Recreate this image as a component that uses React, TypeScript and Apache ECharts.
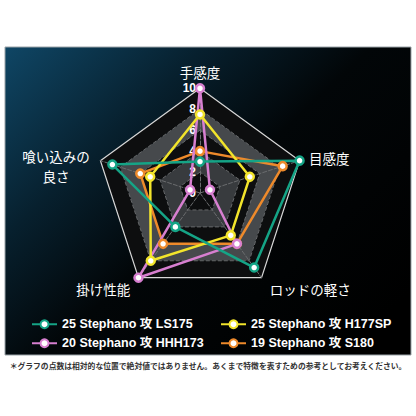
import React, { useEffect, useRef } from "react";
import * as echarts from "echarts";

// Indicators in ECharts order (counter-clockwise from top)
const axisNames = ["手感度", "喰い込みの良さ", "掛け性能", "ロッドの軽さ", "目感度"];
const axisMax = 10;
const axisGaps = [10, 10, 14, 14, 10];

const modelNames = [
  "25 Stephano 攻 LS175",
  "25 Stephano 攻 H177SP",
  "20 Stephano 攻 HHH173",
  "19 Stephano 攻 S180",
];
const modelColors = ["#15a486", "#f2e42b", "#d77fd0", "#ee8a2b"];

// values in axisNames order
const valuesLS175 = [3, 8.8, 4, 8.8, 10];
const valuesH177SP = [7.5, 5, 8, 5, 5];
const valuesHHH173 = [10, 1, 10, 6, 1];
const valuesS180 = [4, 6, 6, 6, 8.3];

const seriesValues = [valuesLS175, valuesH177SP, valuesHHH173, valuesS180];
const drawOrder = [3, 2, 1, 0];

const legendLeft = [0, 2];
const legendRight = [1, 3];

const footnote =
  "＊グラフの点数は相対的な位置で絶対値ではありません。あくまで特徴を表すための参考としてお考えください。";

const latin = "'Liberation Sans', Arial, 'Noto Sans CJK JP', sans-serif";
const cjk = "'Noto Sans CJK JP', sans-serif";

export default function App() {
  const ref = useRef<HTMLDivElement>(null);
  useEffect(() => {
    if (!ref.current) return;
    const chart = echarts.init(ref.current, undefined, { renderer: "svg" });

    const indicator = axisNames.map((n, i) => {
      const o: any = { name: n, max: axisMax, min: 0, nameGap: axisGaps[i] };
      if (i === 0) o.axisLabel = { show: true };
      return o;
    });

    const lineStyleFor = (c: string) => ({ color: c, width: 2.5 });
    const itemStyleFor = (c: string) => ({ color: "#ffffff", borderColor: c, borderWidth: 2.5 });

    const dummy = modelNames.map((n, i) => ({
      type: "line",
      name: n,
      data: [],
      symbol: "circle",
      lineStyle: lineStyleFor(modelColors[i]),
      itemStyle: itemStyleFor(modelColors[i]),
    }));

    const radarSeries = drawOrder.map((i) => ({
      type: "radar",
      name: modelNames[i],
      radarIndex: 0,
      symbol: "circle",
      symbolSize: 8,
      lineStyle: lineStyleFor(modelColors[i]),
      itemStyle: itemStyleFor(modelColors[i]),
      data: [{ name: modelNames[i], value: seriesValues[i] }],
    }));

    const legendCommon = {
      orient: "vertical",
      top: 313,
      itemWidth: 25,
      itemHeight: 10,
      itemGap: 6.5,
      selectedMode: false,
      textStyle: { color: "#ffffff", fontSize: 12.5, fontWeight: "bold", fontFamily: latin },
    };

    const nameRich = {
      width: 70,
      align: "center",
      fontSize: 13.5,
      color: "#ffffff",
      fontFamily: cjk,
    };

    chart.setOption({
      animation: false,
      title: {
        text: footnote,
        left: "center",
        top: 356.5,
        textStyle: { fontSize: 7.8, fontWeight: "bold", color: "#333", fontFamily: cjk },
      },
      graphic: [
        {
          type: "rect",
          z: -10,
          shape: { x: 5, y: 47, width: 406, height: 308 },
          style: {
            stroke: "#9aa3a8",
            lineWidth: 1,
            fill: new echarts.graphic.LinearGradient(0, 0, 1, 0.8, [
              { offset: 0, color: "#0f4665" },
              { offset: 0.3, color: "#07202e" },
              { offset: 0.55, color: "#020608" },
              { offset: 1, color: "#000000" },
            ]),
          },
        },
      ],
      grid: { show: false, left: 0, top: 0, width: 1, height: 1 },
      xAxis: { type: "category", show: false },
      yAxis: { type: "value", show: false },
      legend: [
        { ...legendCommon, left: 26, data: legendLeft.map((i) => modelNames[i]) },
        { ...legendCommon, left: 215, data: legendRight.map((i) => modelNames[i]) },
      ],
      radar: [
        {
          center: [200, 193],
          radius: 104.7,
          startAngle: 90,
          splitNumber: 5,
          shape: "polygon",
          indicator,
          axisName: {
            color: "#ffffff",
            fontSize: 13.5,
            fontFamily: cjk,
            formatter: (name: string) =>
              name === "喰い込みの良さ" ? "{a|喰い込みの}\n{b|良さ}" : name,
            rich: {
              a: { ...nameRich, height: 14, padding: [17, 0, 0, 0] },
              b: { ...nameRich, height: 14, padding: [6, 0, 0, 0] },
            },
          },
          axisLabel: {
            show: false,
            color: "#ffffff",
            fontSize: 12,
            fontWeight: "bold",
            fontFamily: latin,
            margin: 4,
          },
          axisTick: { show: false },
          axisLine: { show: true, lineStyle: { color: "#6a6c6e", type: "dashed", width: 1 } },
          splitLine: {
            show: true,
            lineStyle: {
              color: ["#66686a", "#66686a", "#66686a", "#66686a", "#66686a", "rgba(0,0,0,0)"],
              type: "dashed",
              width: 1,
            },
          },
          splitArea: {
            show: true,
            areaStyle: { color: ["#0d0e0f", "#383b3e", "#0d0e0f", "#46494c", "#0d0e0f"] },
          },
        },
        {
          center: [200, 193],
          radius: 104.7,
          startAngle: 90,
          splitNumber: 1,
          shape: "polygon",
          indicator: axisNames.map((n) => ({ name: n, max: axisMax, min: 0 })),
          axisName: { show: false },
          axisLabel: { show: false },
          axisTick: { show: false },
          axisLine: { show: false },
          splitArea: { show: false },
          splitLine: { show: true, lineStyle: { color: "#d8d8d8", width: 1.2 } },
        },
      ],
      series: [...dummy, ...radarSeries],
    } as any);

    return () => chart.dispose();
  }, []);

  return (
    <div
      ref={ref}
      style={{ position: "fixed", left: 0, top: 0, width: 416, height: 416, background: "#ffffff" }}
    />
  );
}
